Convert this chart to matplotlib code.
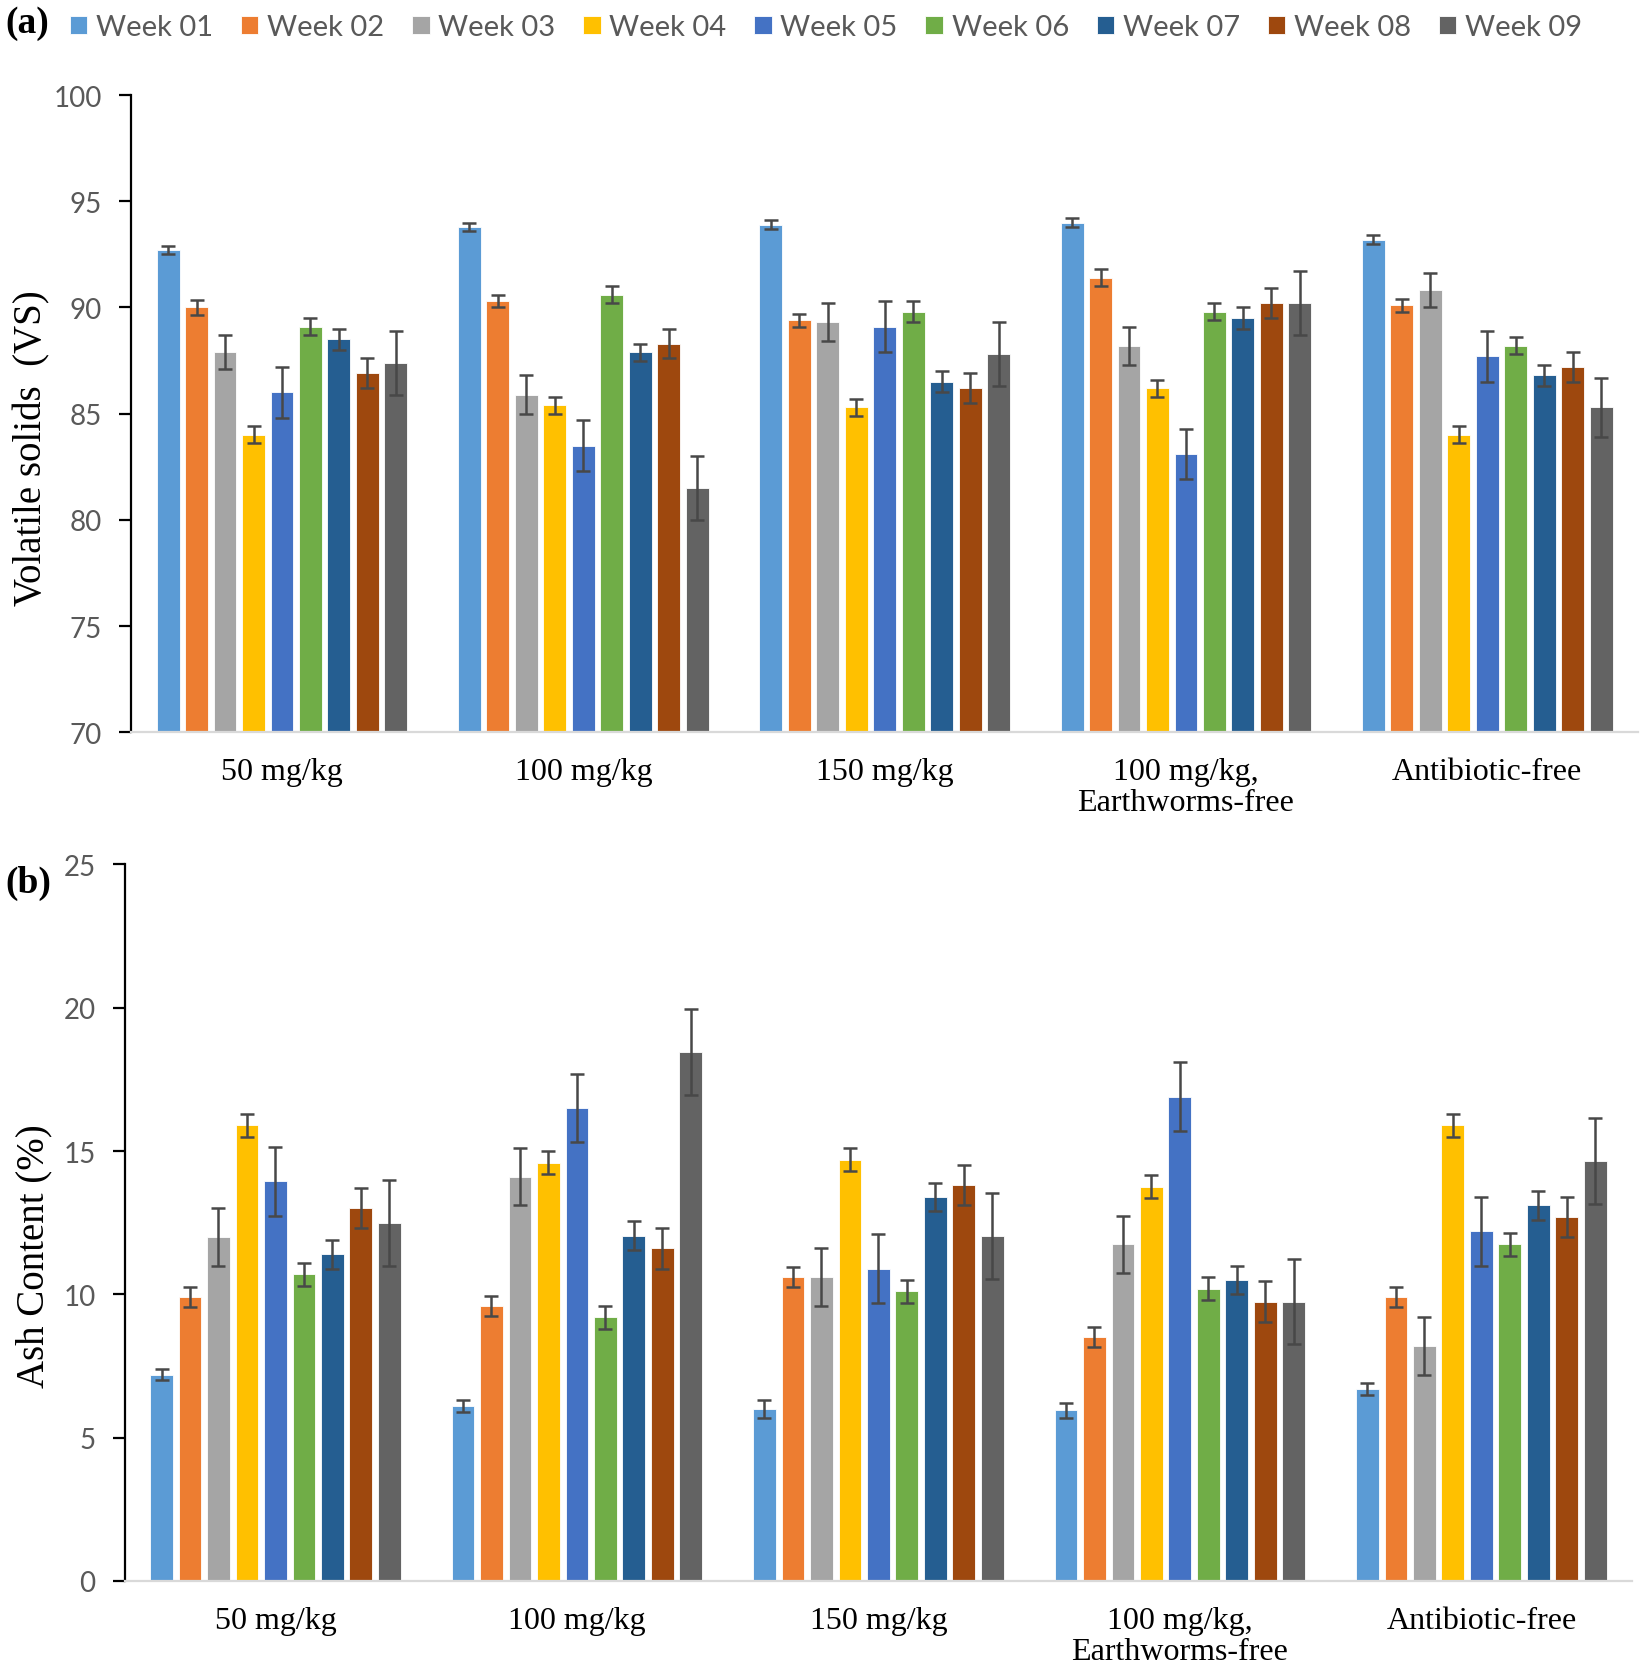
import matplotlib.pyplot as plt
import numpy as np

groups = ['50 mg/kg', '100 mg/kg', '150 mg/kg', '100 mg/kg,\nEarthworms-free', 'Antibiotic-free']
weeks = ['Week 01', 'Week 02', 'Week 03', 'Week 04', 'Week 05',
         'Week 06', 'Week 07', 'Week 08', 'Week 09']
colors = ['#5B9BD5', '#ED7D31', '#A5A5A5', '#FFC000', '#4472C4',
          '#70AD47', '#255E91', '#9E480E', '#636363']

# volatile solids (VS), one row per week, one column per group
vs = np.array([
    [92.7, 93.8, 93.9, 94.0, 93.2],
    [90.0, 90.3, 89.4, 91.4, 90.1],
    [87.9, 85.9, 89.3, 88.2, 90.8],
    [84.0, 85.4, 85.3, 86.2, 84.0],
    [86.0, 83.5, 89.1, 83.1, 87.7],
    [89.1, 90.6, 89.8, 89.8, 88.2],
    [88.5, 87.9, 86.5, 89.5, 86.8],
    [86.9, 88.3, 86.2, 90.2, 87.2],
    [87.4, 81.5, 87.8, 90.2, 85.3],
])
vs_err = np.array([
    [0.2, 0.2, 0.2, 0.2, 0.2],
    [0.35, 0.3, 0.3, 0.4, 0.3],
    [0.8, 0.9, 0.9, 0.9, 0.8],
    [0.4, 0.4, 0.4, 0.4, 0.4],
    [1.2, 1.2, 1.2, 1.2, 1.2],
    [0.4, 0.4, 0.5, 0.4, 0.4],
    [0.5, 0.4, 0.5, 0.5, 0.5],
    [0.7, 0.7, 0.7, 0.7, 0.7],
    [1.5, 1.5, 1.5, 1.5, 1.4],
])

# ash content (%)
ash = np.array([
    [7.2, 6.1, 6.0, 5.95, 6.7],
    [9.9, 9.6, 10.6, 8.5, 9.9],
    [12.0, 14.1, 10.6, 11.75, 8.2],
    [15.9, 14.6, 14.7, 13.75, 15.9],
    [13.95, 16.5, 10.9, 16.9, 12.2],
    [10.7, 9.2, 10.1, 10.2, 11.75],
    [11.4, 12.05, 13.4, 10.5, 13.1],
    [13.0, 11.6, 13.8, 9.75, 12.7],
    [12.5, 18.45, 12.05, 9.75, 14.65],
])
ash_err = np.array([
    [0.2, 0.2, 0.3, 0.25, 0.2],
    [0.35, 0.35, 0.35, 0.35, 0.35],
    [1.0, 1.0, 1.0, 1.0, 1.0],
    [0.4, 0.4, 0.4, 0.4, 0.4],
    [1.2, 1.2, 1.2, 1.2, 1.2],
    [0.4, 0.4, 0.4, 0.4, 0.4],
    [0.5, 0.5, 0.5, 0.5, 0.5],
    [0.7, 0.7, 0.7, 0.7, 0.7],
    [1.5, 1.5, 1.5, 1.5, 1.5],
])

sans = ['Lato', 'DejaVu Sans']
serif = 'Liberation Serif'

fig = plt.figure(figsize=(16.52, 16.74), dpi=100)
ax_a = fig.add_axes([0.0795, 0.562, 0.912, 0.3806])
ax_b = fig.add_axes([0.0755, 0.055, 0.9125, 0.428])

x = np.arange(len(groups))
slot = 0.0945
bw = 0.076


def draw(ax, data, err, ylim, step, ylabel):
    for i, wk in enumerate(weeks):
        pos = x + (i - 4) * slot
        ax.bar(pos, data[i] - ylim[0], bw, bottom=ylim[0], color=colors[i],
               edgecolor='white', linewidth=0.6, label=wk, zorder=2)
        ax.errorbar(pos, data[i], yerr=err[i], fmt='none', ecolor='#484848',
                    elinewidth=1.8, capsize=5, capthick=1.8, zorder=3)
    ax.set_xlim(-0.5, 4.5)
    ax.set_ylim(*ylim)
    ax.set_yticks(np.arange(ylim[0], ylim[1] + 0.1, step))
    ax.set_xticks(x)
    ax.set_xticklabels(groups, family=serif, fontsize=23, linespacing=1.1)
    for s in ['top', 'right']:
        ax.spines[s].set_visible(False)
    ax.spines['left'].set_color('black')
    ax.spines['left'].set_linewidth(1.6)
    ax.spines['bottom'].set_color('#D9D9D9')
    ax.spines['bottom'].set_linewidth(1.6)
    ax.tick_params(axis='x', length=0, pad=18)
    ax.tick_params(axis='y', direction='out', length=9, width=1.6,
                   labelsize=20, labelcolor='#595959', pad=12)
    for lab in ax.get_yticklabels():
        lab.set_family(sans)
    ax.set_ylabel(ylabel, family=serif, fontsize=28)


draw(ax_a, vs, vs_err, (70, 100), 5, 'Volatile solids  (VS)')
draw(ax_b, ash, ash_err, (0, 25), 5, 'Ash Content (%)')
ax_a.yaxis.set_label_coords(-0.054, 0.447)
ax_b.yaxis.set_label_coords(-0.048, 0.455)

handles, labels = ax_a.get_legend_handles_labels()
fig.legend(handles, labels, loc='center', bbox_to_anchor=(0.5, 0.983), ncol=9,
           frameon=False, prop={'family': sans, 'size': 21},
           labelcolor='#595959', handlelength=0.6, handleheight=0.6,
           handletextpad=0.3, columnspacing=0.95)

fig.text(0.003, 0.986, '(a)', family=serif, fontsize=27, fontweight='bold', va='center')
fig.text(0.003, 0.472, '(b)', family=serif, fontsize=27, fontweight='bold', va='center')

fig.savefig('out.png', dpi=100)
